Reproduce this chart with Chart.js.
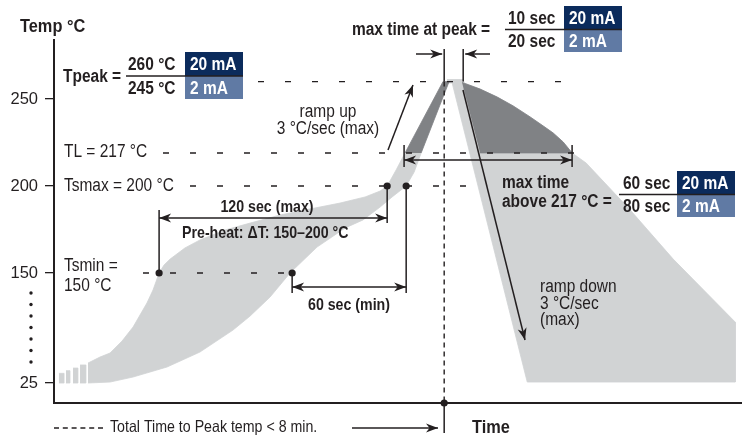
<!DOCTYPE html>
<html>
<head>
<meta charset="utf-8">
<script src="https://cdn.jsdelivr.net/npm/chart.js@4.4.1/dist/chart.umd.min.js"></script>
<style>
  html, body { margin: 0; padding: 0; background: #fff; }
  #wrap { width: 742px; height: 437px; position: relative; }
</style>
</head>
<body>
<div id="wrap"><canvas id="chart"></canvas></div>
<script>
// temperature levels, degrees C
const tsMin = 150, tsMax = 200, tLiquidus = 219, tPeak = 260, tRoom = 25;
const yTickValues = [25, 150, 200, 250];
const yTickLabels = ['25', '150', '200', '250'];

// fast profile = upper/left edge of the band (seconds, degrees C)
const fastTime = [17.9, 24.2, 29.5, 35.8, 41.6, 48.9, 52.1, 55.3, 57.9, 61.1, 68.9, 76.8, 90.0, 103.2, 118.9, 134.7, 150.5, 163.7, 171.6, 175.3, 180.0, 184.7];
const fastTemp = [47.7, 54.5, 59.1, 72.7, 88.6, 115.9, 130.7, 150, 154.6, 158.0, 164.4, 169.0, 174.7, 178.7, 183.3, 186.8, 190.2, 193.7, 197.1, 200, 209.2, 219];

// slow profile = lower/right edge of the band
const slowTime = [17.9, 29.5, 41.6, 59.5, 76.8, 94.2, 103.2, 113.7, 124.2, 138.4, 153.2, 162.6, 171.6, 177.9, 185.3, 189.5, 193.2];
const slowTemp = [25, 26.1, 31.8, 43.2, 60.2, 85.2, 101.1, 122.7, 150, 164.9, 175.9, 180.5, 187.9, 193.7, 200, 208, 219];

// faded start of the band
const stripeStart = [2.6, 6.3, 10.0, 13.7];
const stripeEnd = [5.3, 8.4, 12.6, 16.8];
const stripeTop = [36.0, 39.0, 42.0, 45.5];

// ramp-up above liquidus (dark strip)
const rampTime = [184.7, 204.7, 207.9, 193.2];
const rampTemp = [219, 260, 260, 219];

// peak cap + cool-down envelope (light)
const coolTime = [206.8, 215.3, 215.8, 224.2, 233.2, 241.6, 250.5, 257.4, 262.6, 267.9, 272.6, 280.0, 303.2, 325.8, 358.4, 358.4, 249.0, 209.5, 206.8];
const coolTemp = [261.2, 261.2, 259.2, 255.7, 251.1, 246.0, 239.7, 234.5, 230.5, 225.3, 219.0, 213.2, 186.2, 158.0, 94.3, 26.1, 26.1, 259.2, 259.2];

// time above liquidus after peak (dark)
const aboveTime = [214.7, 224.2, 233.2, 241.6, 250.5, 257.4, 262.6, 267.9, 272.6, 224.2];
const aboveTemp = [259.5, 255.7, 251.1, 246.0, 239.7, 234.5, 230.5, 225.3, 219, 219];

// key times, seconds
const tMinFast = 55.3, tMinSlow = 125.3, tMaxFast = 175.3, tMaxSlow = 185.3;
const tPeakStart = 205.3, tPeakEnd = 215.3, tAboveStart = 184.2, tAboveEnd = 272.6;

const INK = '#231f20', LIGHT = '#d1d3d4', DARK = '#808285', NAVY = '#0b2b5c', STEEL = '#607aa4';

// below 150 degrees the axis is squeezed (broken axis)
const BREAK = 150, SQUEEZE = 0.5057;
const toAxis = T => T >= BREAK ? T : BREAK - (BREAK - T) * SQUEEZE;
const pts = (ts, Ts) => ts.map((t, i) => ({ x: t, y: toAxis(Ts[i]) }));

const bandData = pts(fastTime, fastTemp).concat(pts(slowTime, slowTemp).reverse());

function shape(data, color) {
  return {
    data, showLine: true, fill: 'shape', tension: 0,
    backgroundColor: color, borderColor: color, borderWidth: 0.8, pointRadius: 0
  };
}

// Chart.js paints the first dataset last, so the top layers go first
const datasets = [
  shape(pts(aboveTime, aboveTemp), DARK),
  shape(pts(rampTime, rampTemp), DARK),
  shape(pts(coolTime, coolTemp), LIGHT)
];
stripeStart.forEach((s, i) => {
  datasets.push(shape(pts([s, stripeEnd[i], stripeEnd[i], s], [tRoom, tRoom, stripeTop[i], stripeTop[i]]), LIGHT));
});
datasets.push(shape(bandData, LIGHT));

const FONT = '"Liberation Sans", Arial, sans-serif';
const NARROW = 0.86;

function text(ctx, str, x, y, size, bold, align, color) {
  ctx.save();
  ctx.font = (bold ? 'bold ' : '') + size + 'px ' + FONT;
  ctx.fillStyle = color || INK;
  ctx.textBaseline = 'alphabetic';
  ctx.textAlign = 'left';
  const w = ctx.measureText(str).width * NARROW;
  const x0 = align === 'center' ? x - w / 2 : align === 'right' ? x - w : x;
  ctx.translate(x0, y);
  ctx.scale(NARROW, 1);
  ctx.fillText(str, 0, 0);
  ctx.restore();
}

function seg(ctx, x1, y1, x2, y2, dash, w) {
  ctx.save();
  ctx.strokeStyle = INK;
  ctx.lineWidth = w || 1.4;
  ctx.setLineDash(dash || []);
  ctx.beginPath();
  ctx.moveTo(x1, y1);
  ctx.lineTo(x2, y2);
  ctx.stroke();
  ctx.restore();
}

function head(ctx, x1, y1, x2, y2) {
  const a = Math.atan2(y2 - y1, x2 - x1);
  ctx.save();
  ctx.fillStyle = INK;
  ctx.translate(x2, y2);
  ctx.rotate(a);
  ctx.beginPath();
  ctx.moveTo(0, 0);
  ctx.lineTo(-12, -4.5);
  ctx.lineTo(-8.5, 0);
  ctx.lineTo(-12, 4.5);
  ctx.closePath();
  ctx.fill();
  ctx.restore();
}

function arrow(ctx, x1, y1, x2, y2, both) {
  seg(ctx, x1, y1, x2, y2, [], 1.5);
  head(ctx, x1, y1, x2, y2);
  if (both) head(ctx, x2, y2, x1, y1);
}

function dot(ctx, x, y, r) {
  ctx.save();
  ctx.fillStyle = INK;
  ctx.beginPath();
  ctx.arc(x, y, r || 3.6, 0, Math.PI * 2);
  ctx.fill();
  ctx.restore();
}

function fraction(ctx, x, yTop, yBot, top, bottom, boxX, boxRight, lineY, lineX) {
  text(ctx, top, x, yTop, 18, true);
  text(ctx, bottom, x, yBot, 18, true);
  ctx.fillStyle = NAVY;
  ctx.fillRect(boxX, yTop - 18, boxRight - boxX, lineY - (yTop - 18));
  ctx.fillStyle = STEEL;
  ctx.fillRect(boxX, lineY, boxRight - boxX, yBot + 5 - lineY);
  seg(ctx, lineX, lineY, boxRight, lineY, [], 1.5);
  text(ctx, '20 mA', boxX + 5, yTop, 18, true, 'left', '#fff');
  text(ctx, '2 mA', boxX + 5, yBot, 18, true, 'left', '#fff');
}

const notes = {
  id: 'notes',
  afterDraw(chart) {
    const { ctx, scales: { x, y }, chartArea } = chart;
    const px = t => x.getPixelForValue(t);
    const py = T => y.getPixelForValue(toAxis(T));
    const DASH = [6, 21];

    // axis break marks
    for (let i = 0; i < 7; i++) dot(ctx, 31, 293 + i * 11.5, 1.7);

    // reference levels
    seg(ctx, 258, py(tPeak), 575, py(tPeak), DASH);
    seg(ctx, 163, py(tLiquidus), 575, py(tLiquidus), DASH);
    seg(ctx, 190, py(tsMax), 482, py(tsMax), DASH);
    seg(ctx, 143, py(tsMin), px(tMinSlow), py(tsMin), DASH);
    seg(ctx, px(tPeakStart), py(tPeak), px(tPeakStart), chartArea.bottom, [5, 4]);

    // pre-heat brackets
    const x1 = px(tMinFast), x2 = px(tMaxFast), x3 = px(tMinSlow), x4 = px(tMaxSlow);
    seg(ctx, x1, py(tsMin), x1, 210, [], 1.5);
    seg(ctx, x2, py(tsMax), x2, 223, [], 1.5);
    arrow(ctx, x1, 218, x2, 218, true);
    seg(ctx, x3, py(tsMin), x3, 293, [], 1.5);
    seg(ctx, x4, py(tsMax), x4, 293, [], 1.5);
    arrow(ctx, x3, 287, x4, 287, true);

    // time above liquidus bracket
    const x5 = px(tAboveStart), x6 = px(tAboveEnd);
    seg(ctx, x5, 145, x5, 167, [], 1.5);
    seg(ctx, x6, 145, x6, 167, [], 1.5);
    arrow(ctx, x5, 160, x6, 160, true);

    // time at peak
    const x7 = px(tPeakStart), x8 = px(tPeakEnd);
    seg(ctx, x7, 49, x7, py(tPeak), [], 1.5);
    seg(ctx, x8, 49, x8, py(tPeak), [], 1.5);
    arrow(ctx, 416, 54, x7 - 2, 54);
    arrow(ctx, 490, 54, x8 + 2, 54);

    // ramp arrows
    arrow(ctx, 388, 150, 413, 85);
    arrow(ctx, 463, 90, 525, 340);

    [[x1, py(tsMin)], [x3, py(tsMin)], [x2, py(tsMax)], [x4, py(tsMax)], [x7, chartArea.bottom]]
      .forEach(p => dot(ctx, p[0], p[1]));

    // bottom legend
    seg(ctx, 54, 428, 106, 428, [5, 3.8], 1.5);
    text(ctx, 'Total Time to Peak temp < 8 min.', 110, 432, 16.5, false);
    arrow(ctx, 352, 428, 438, 428);
    seg(ctx, x7, chartArea.bottom, x7, 433, [], 1.5);
    text(ctx, 'Time', 472, 433, 19, true);

    // labels
    text(ctx, 'Temp °C', 20, 32, 19, true);
    text(ctx, 'Tpeak =', 63, 82, 18, true);
    fraction(ctx, 128, 70, 94, '260 °C', '245 °C', 185, 243, 76, 126);
    text(ctx, 'max time at peak =', 352, 35, 18, true);
    fraction(ctx, 508, 24, 47, '10 sec', '20 sec', 564, 622, 29.5, 505);
    text(ctx, 'max time', 502, 188, 18, true);
    text(ctx, 'above 217 °C =', 502, 207, 18, true);
    fraction(ctx, 623, 189, 212, '60 sec', '80 sec', 677, 735, 194.5, 619);

    text(ctx, 'TL = 217 °C', 64, 157, 18, false);
    text(ctx, 'Tsmax = 200 °C', 64, 191, 18, false);
    text(ctx, 'Tsmin =', 64, 271, 18, false);
    text(ctx, '150 °C', 64, 291, 18, false);

    text(ctx, 'ramp up', 328, 117, 18, false, 'center');
    text(ctx, '3 °C/sec (max)', 328, 134, 18, false, 'center');
    text(ctx, 'ramp down', 540, 292, 18, false);
    text(ctx, '3 °C/sec', 540, 309, 18, false);
    text(ctx, '(max)', 540, 325, 18, false);

    text(ctx, '120 sec (max)', 267, 212, 16.5, true, 'center');
    text(ctx, 'Pre-heat: ΔT: 150–200 °C', 182, 238, 16.5, true);
    text(ctx, '60 sec (min)', 349, 310, 16.5, true, 'center');
  }
};

new Chart(document.getElementById('chart'), {
  type: 'scatter',
  data: { datasets },
  options: {
    responsive: true,
    maintainAspectRatio: false,
    animation: false,
    events: [],
    layout: { padding: { top: 40, right: 0, left: 0, bottom: 0 } },
    plugins: { legend: { display: false }, tooltip: { enabled: false } },
    scales: {
      x: {
        type: 'linear', min: 0, max: 362,
        ticks: { display: false },
        grid: { display: false },
        border: { display: true, color: INK, width: 2 },
        afterFit: s => { s.height = 34; }
      },
      y: {
        type: 'linear', min: 75.3, max: 283.9,
        afterBuildTicks: s => { s.ticks = yTickValues.map(v => ({ value: toAxis(v) })); },
        ticks: {
          callback: (v, i) => yTickLabels[i],
          color: INK, padding: 7, autoSkip: false,
          font: { family: FONT, size: 16.5 }
        },
        grid: { drawOnChartArea: false, drawTicks: true, tickLength: 9, color: INK, lineWidth: 1.3 },
        border: { display: true, color: INK, width: 2 },
        afterFit: s => { s.width = 54; }
      }
    }
  },
  plugins: [notes]
});
</script>
</body>
</html>
